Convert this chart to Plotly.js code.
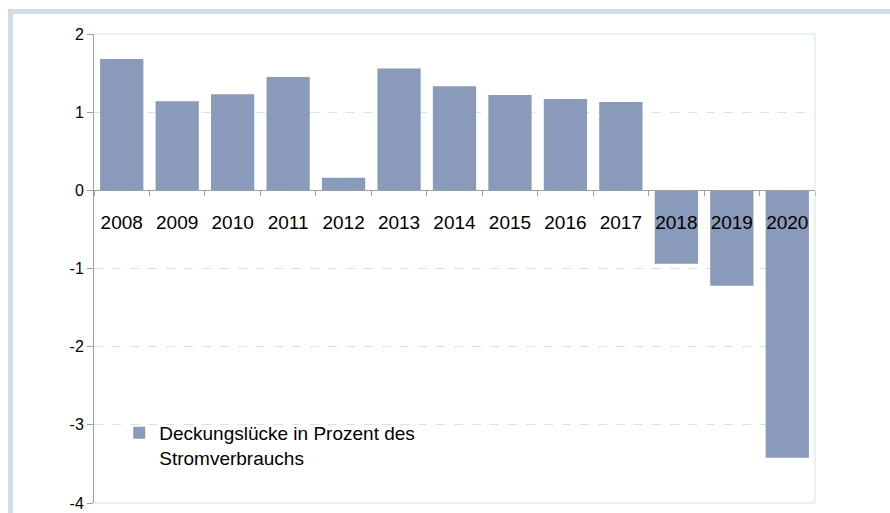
<!DOCTYPE html>
<html>
<head>
<meta charset="utf-8">
<script src="https://cdn.plot.ly/plotly-3.0.1.min.js"></script>
<style>
html,body{margin:0;padding:0;background:#fff;}
#wrap{position:relative;width:890px;height:513px;}
#chart{position:absolute;left:0;top:0;width:890px;height:513px;}
#frame{position:absolute;left:8px;top:9px;width:900px;height:520px;border-left:5px solid #d0dce6;border-top:5px solid #d0dce6;pointer-events:none;}
</style>
</head>
<body>
<div id="wrap">
<div id="chart"></div>
<div id="frame"></div>
</div>
<script>
const years = ["2008","2009","2010","2011","2012","2013","2014","2015","2016","2017","2018","2019","2020"];
const gap = [1.68, 1.14, 1.23, 1.45, 0.16, 1.56, 1.33, 1.22, 1.17, 1.13, -0.94, -1.22, -3.42];
const yTicks = [-4, -3, -2, -1, 0, 1, 2];
const seriesName = "Deckungslücke in Prozent des<br>Stromverbrauchs";

const trace = {
  type: "bar",
  x: years,
  y: gap,
  name: seriesName,
  marker: {color: "#8a9aba", line: {width: 0}},
  width: 0.78,
  showlegend: true,
  hoverinfo: "x+y"
};

const layout = {
  width: 890,
  height: 513,
  margin: {l: 94, r: 75, t: 34, b: 10},
  paper_bgcolor: "rgba(0,0,0,0)",
  plot_bgcolor: "#ffffff",
  font: {family: "Liberation Sans, Arial, sans-serif", color: "#000"},
  showlegend: true,
  legend: {
    x: 0.035, y: 0.19, xanchor: "left", yanchor: "top",
    bgcolor: "rgba(0,0,0,0)",
    font: {size: 19, color: "#000"},
    itemwidth: 30,
    valign: "top",
    tracegroupgap: 0
  },
  xaxis: {
    type: "category",
    anchor: "free",
    position: 4/6,
    showline: true,
    linecolor: "#a0a0a0",
    linewidth: 1,
    ticks: "outside",
    tickson: "boundaries",
    ticklen: 5,
    tickcolor: "#a0a0a0",
    ticklabelstandoff: 15,
    tickfont: {size: 19, color: "#000"},
    showgrid: false,
    zeroline: false,
    fixedrange: true
  },
  yaxis: {
    range: [-4, 2],
    tickvals: yTicks,
    ticktext: yTicks.map(String),
    showline: true,
    linecolor: "#a0a0a0",
    linewidth: 1,
    ticks: "outside",
    ticklen: 6,
    tickcolor: "#a0a0a0",
    tickfont: {size: 16, color: "#000"},
    showgrid: true,
    gridcolor: "#cde6ef",
    griddash: "dash",
    gridwidth: 1,
    zeroline: false,
    fixedrange: true
  },
  shapes: [
    {type: "line", xref: "paper", yref: "paper", x0: 0, x1: 1, y0: 1, y1: 1, line: {color: "#cfe4ee", width: 1}},
    {type: "line", xref: "paper", yref: "paper", x0: 1, x1: 1, y0: 0, y1: 1, line: {color: "#cfe4ee", width: 1}},
    {type: "line", xref: "paper", yref: "paper", x0: 0, x1: 1, y0: 0, y1: 0, line: {color: "#cfe4ee", width: 1}}
  ]
};

Plotly.newPlot("chart", [trace], layout, {displayModeBar: false, staticPlot: true});
</script>
</body>
</html>
